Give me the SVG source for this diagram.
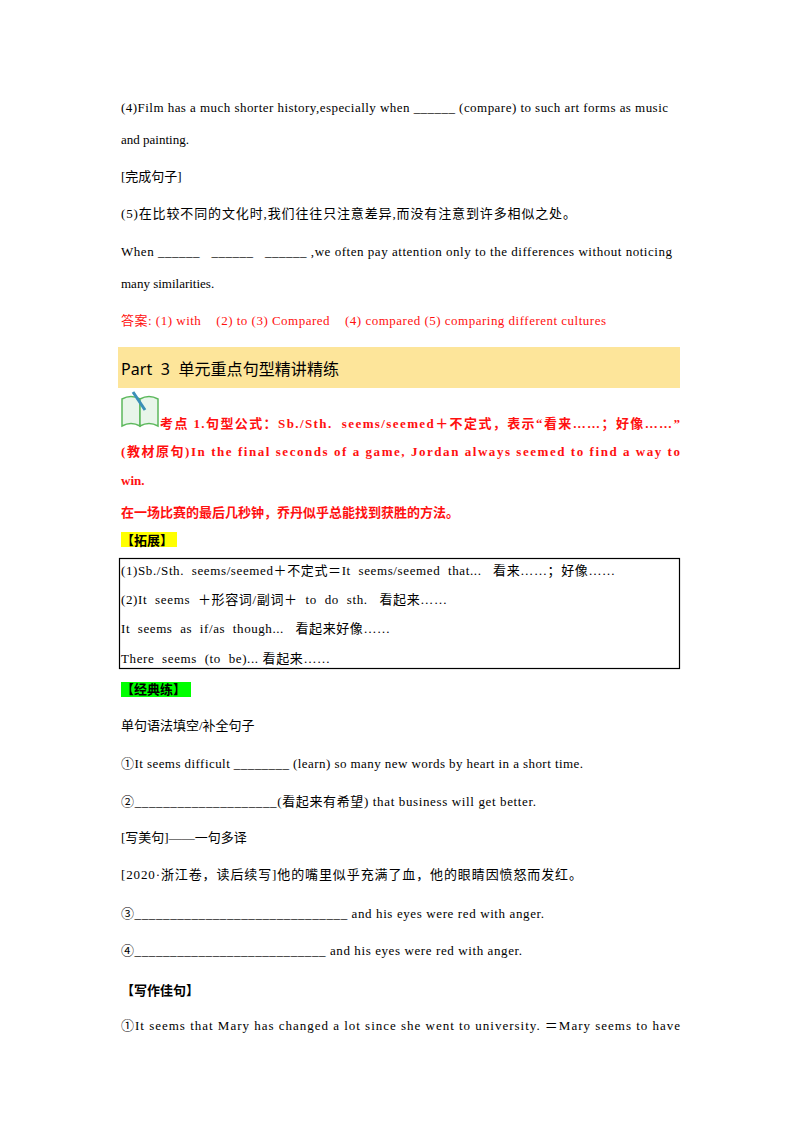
<svg xmlns="http://www.w3.org/2000/svg" width="800" height="1132" viewBox="0 0 800 1132">
<style>
text{font-family:"Liberation Serif","Noto Sans CJK SC",serif;font-size:13px;fill:#000;white-space:pre}
.r{fill:#ff1010}
.b{font-weight:bold}
.h{font-family:"Noto Sans","Noto Sans CJK SC",sans-serif;font-size:16px}
</style>
<rect width="800" height="1132" fill="#fff"/>
<text x="121" y="112" textLength="547" lengthAdjust="spacing">(4)Film has a much shorter history,especially when ______ (compare) to such art forms as music</text>
<text x="121" y="144">and painting.</text>
<text x="121" y="181">[完成句子]</text>
<text x="121" y="218" textLength="455" lengthAdjust="spacing">(5)在比较不同的文化时,我们往往只注意差异,而没有注意到许多相似之处。</text>
<text x="121" y="256" textLength="551" lengthAdjust="spacing">When ______   ______   ______ ,we often pay attention only to the differences without noticing</text>
<text x="121" y="288">many similarities.</text>
<text x="121" y="325" class="r" textLength="485" lengthAdjust="spacing">答案: (1) with    (2) to (3) Compared    (4) compared (5) comparing different cultures</text>
<rect x="118" y="347" width="562" height="41" fill="#fde59a"/>
<text x="121" y="375" class="h" textLength="218" lengthAdjust="spacing">Part  3  单元重点句型精讲精练</text>
<g id="icon">
<path d="M122 399 Q131 394 140 399 L140 426 Q131 421 122 426 Z" fill="#e8f5ea" stroke="#5cb85c" stroke-width="1.5"/>
<path d="M140 399 Q149 394 158 399 L158 426 Q149 421 140 426 Z" fill="#e8f5ea" stroke="#5cb85c" stroke-width="1.5"/>
<line x1="133" y1="392" x2="145" y2="410" stroke="#3a8fb7" stroke-width="3"/>
</g>
<text x="160" y="428" class="r b" textLength="520" lengthAdjust="spacing">考点 1.句型公式：Sb./Sth.  seems/seemed＋不定式，表示“看来……；好像……”</text>
<text x="121" y="456" class="r b" textLength="559" lengthAdjust="spacing">(教材原句)In the final seconds of a game, Jordan always seemed to find a way to</text>
<text x="121" y="485" class="r b">win.</text>
<text x="121" y="517" class="r b">在一场比赛的最后几秒钟，乔丹似乎总能找到获胜的方法。</text>
<rect x="121" y="532" width="56" height="15" fill="#ffff00"/>
<text x="121" y="545" class="b">【拓展】</text>
<rect x="119.5" y="558.5" width="560" height="110" fill="none" stroke="#000" stroke-width="1.2"/>
<text x="121" y="575" textLength="494" lengthAdjust="spacing">(1)Sb./Sth.  seems/seemed＋不定式＝It  seems/seemed  that...   看来……；好像……</text>
<text x="121" y="604" textLength="326" lengthAdjust="spacing">(2)It  seems  ＋形容词/副词＋  to  do  sth.   看起来……</text>
<text x="121" y="633" textLength="269" lengthAdjust="spacing">It  seems  as  if/as  though...   看起来好像……</text>
<text x="121" y="663" textLength="209" lengthAdjust="spacing">There  seems  (to  be)... 看起来……</text>
<rect x="121" y="682" width="70" height="15" fill="#00ff00"/>
<text x="121" y="694" class="b">【经典练】</text>
<text x="121" y="730">单句语法填空/补全句子</text>
<text x="121" y="768" textLength="462" lengthAdjust="spacing">①It seems difficult ________ (learn) so many new words by heart in a short time.</text>
<text x="121" y="806" textLength="415" lengthAdjust="spacing">②____________________(看起来有希望) that business will get better.</text>
<text x="121" y="842">[写美句]——一句多译</text>
<text x="121" y="879" textLength="461" lengthAdjust="spacing">[2020·浙江卷，读后续写]他的嘴里似乎充满了血，他的眼睛因愤怒而发红。</text>
<text x="121" y="918" textLength="423" lengthAdjust="spacing">③______________________________ and his eyes were red with anger.</text>
<text x="121" y="955" textLength="401" lengthAdjust="spacing">④___________________________ and his eyes were red with anger.</text>
<text x="121" y="995" class="b">【写作佳句】</text>
<text x="121" y="1030" textLength="559" lengthAdjust="spacing">①It seems that Mary has changed a lot since she went to university. ＝Mary seems to have</text>
</svg>
